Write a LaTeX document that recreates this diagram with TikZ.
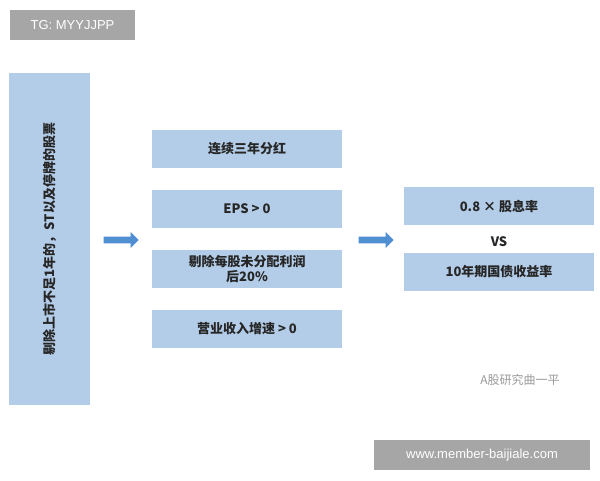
\documentclass[tikz,border=0pt]{standalone}
\usepackage{fontspec}
\setmainfont{Noto Sans CJK SC}
\newfontfamily\latinsans{Liberation Sans}
\usetikzlibrary{shapes.arrows}
\definecolor{boxblue}{HTML}{B3CDE8}
\definecolor{arrowblue}{HTML}{4F8ED0}
\definecolor{tagray}{HTML}{A6A6A6}
\tikzset{
  crit/.style={fill=boxblue, draw=none, minimum width=190pt, minimum height=38pt, inner sep=2pt, align=center, font=\fontsize{13pt}{15pt}\selectfont\bfseries, text=black!85},
  tag/.style={fill=tagray, draw=none, text=white, font=\latinsans\fontsize{13pt}{15pt}\selectfont, inner sep=0pt},
  blockarrow/.style={single arrow, fill=arrowblue, draw=none, minimum width=16pt, single arrow head extend=3pt, minimum height=35pt, inner sep=2pt}
}
\begin{document}
\begin{tikzpicture}[x=1pt,y=-1pt]
\useasboundingbox (0,0) rectangle (600,480);
\node[tag, minimum width=125pt, minimum height=30pt] (tg) at (72.5,25) {TG: MYYJJPP};
\node[fill=boxblue, minimum width=81pt, minimum height=332pt, inner sep=0pt] (left) at (49.5,239) {};
\node[rotate=90, font=\fontsize{13pt}{15pt}\selectfont\bfseries, text=black!85] (lefttxt) at (left.center) {剔除上市不足1年的，ST以及停牌的股票};
\node[blockarrow] (a1) at (119.5,240) {};
\node[crit] (c1) at (247,149) {连续三年分红};
\node[crit] (c2) at (247,209) {EPS > 0};
\node[crit] (c3) at (247,269) {剔除每股未分配利润\\后20\%};
\node[crit] (c4) at (247,329) {营业收入增速 > 0};
\node[blockarrow] (a2) at (374.5,240) {};
\node[crit] (r1) at (499,206) {0.8 × 股息率};
\node[font=\fontsize{13pt}{15pt}\selectfont\bfseries, text=black!85] (vs) at (499,242) {VS};
\node[crit] (r2) at (499,272) {10年期国债收益率};
\node[text=black!40, font=\fontsize{12pt}{14pt}\selectfont] (wm) at (520,380) {A股研究曲一平};
\node[tag, minimum width=216pt, minimum height=30pt] (site) at (482,455) {www.member-baijiale.com};
\end{tikzpicture}
\end{document}
